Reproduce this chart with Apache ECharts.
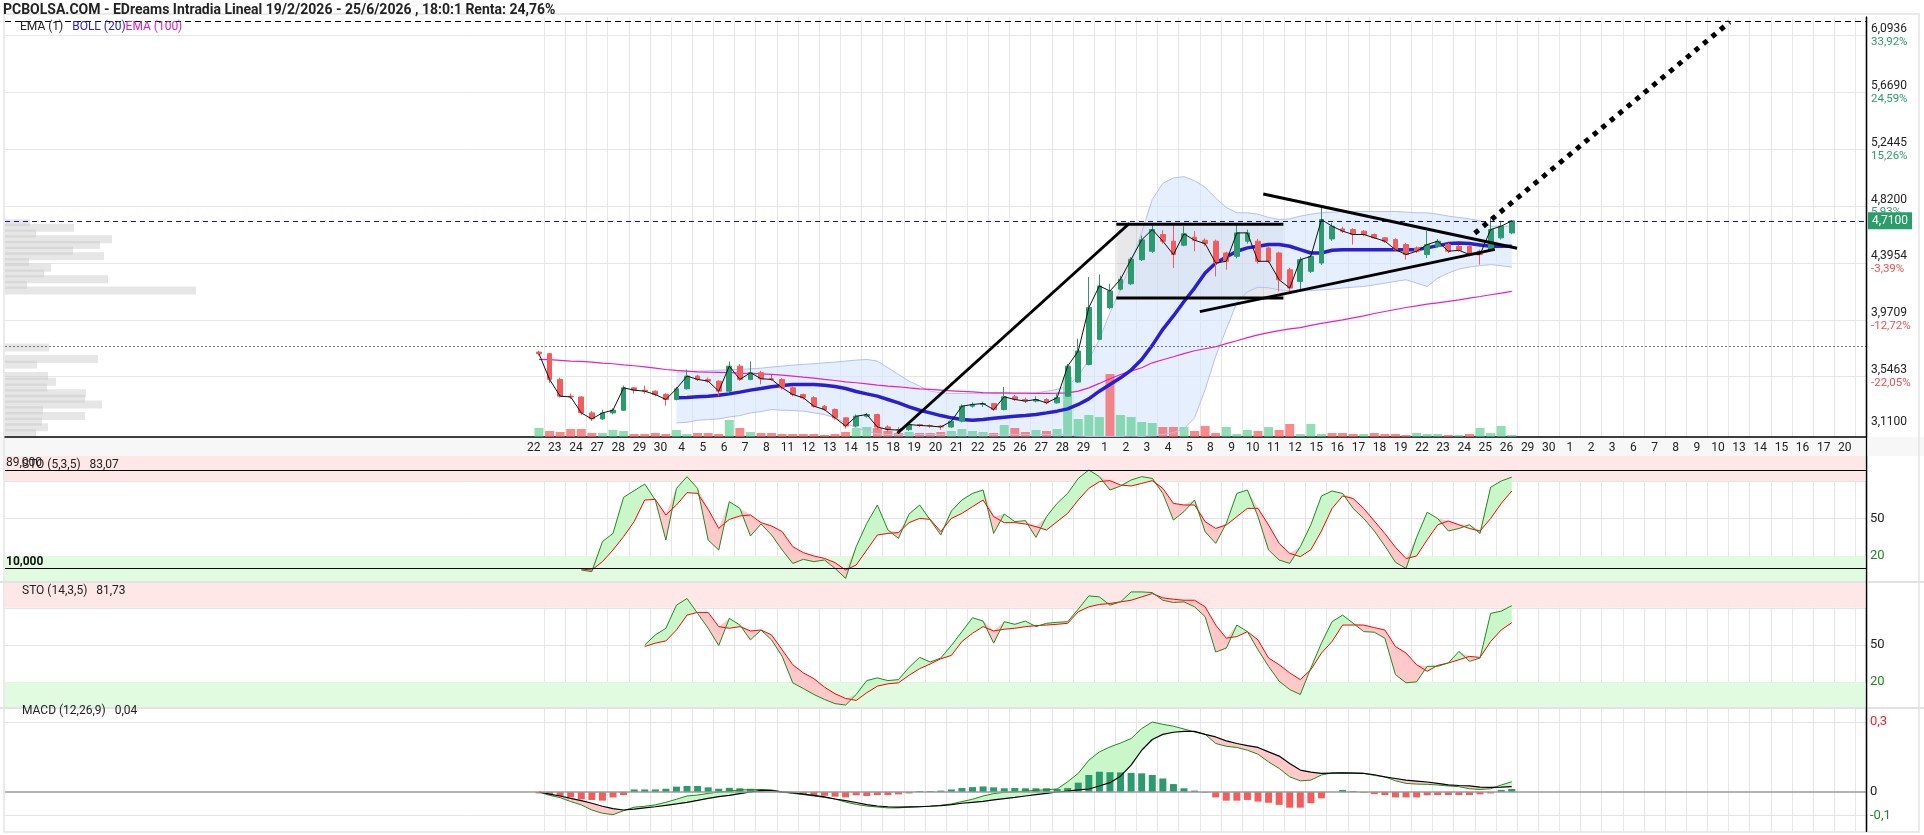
<!DOCTYPE html>
<html>
<head>
<meta charset="utf-8">
<title>EDreams intradia</title>
<script src="https://cdn.jsdelivr.net/npm/echarts@6/dist/echarts.min.js"></script>
<style>
  html, body { margin: 0; padding: 0; background: #fff; }
  #chart { width: 1924px; height: 835px; }
</style>
</head>
<body>
<div id="chart"></div>
<script>
// trading days shown on the x axis (22 abr -> 20 jul)
const dayLabels = ['22','23','24','27','28','29','30',
  '4','5','6','7','8','11','12','13','14','15','18','19','20','21','22','25','26','27','28','29',
  '1','2','3','4','5','8','9','10','11','12','15','16','17','18','19','22','23','24','25','26','29','30',
  '1','2','3','6','7','8','9','10','13','14','15','16','17','20'];

// half-day candles
const candleOpen = [
  3.730,3.718,3.526,3.401,3.395,3.276,3.231,3.276,3.296,3.463,
  3.446,3.438,3.413,3.376,3.456,3.551,3.526,3.513,3.438,3.625,
  3.526,3.576,3.531,3.526,3.463,3.413,3.389,3.326,3.301,3.239,
  3.178,3.251,3.264,3.171,3.151,3.151,3.189,3.182,3.178,3.171,
  3.214,3.326,3.339,3.346,3.301,3.396,3.376,3.364,3.376,3.351,
  3.401,3.506,3.638,3.825,4.062,4.200,4.240,4.420,4.483,4.608,
  4.558,4.528,4.588,4.565,4.558,4.470,4.445,4.558,4.558,4.508,
  4.470,4.345,4.258,4.333,4.395,4.575,4.650,4.645,4.633,4.608,
  4.583,4.570,4.533,4.508,4.458,4.520,4.533,4.520,4.520,4.483,
  4.495,4.583,4.620];
const candleClose = [
  3.718,3.526,3.401,3.395,3.276,3.231,3.276,3.296,3.463,3.446,
  3.438,3.413,3.376,3.456,3.551,3.526,3.513,3.438,3.625,3.526,
  3.576,3.531,3.526,3.463,3.413,3.389,3.326,3.301,3.239,3.178,
  3.251,3.264,3.171,3.151,3.148,3.189,3.182,3.178,3.171,3.214,
  3.326,3.339,3.346,3.301,3.396,3.376,3.364,3.376,3.351,3.389,
  3.625,3.738,4.062,4.224,4.186,4.274,4.423,4.568,4.645,4.558,
  4.458,4.613,4.565,4.540,4.395,4.408,4.620,4.620,4.408,4.408,
  4.270,4.208,4.420,4.445,4.720,4.670,4.633,4.608,4.608,4.583,
  4.558,4.495,4.458,4.483,4.533,4.558,4.483,4.490,4.458,4.458,
  4.645,4.670,4.710];
const candleHigh = [
  3.740,3.725,3.540,3.420,3.400,3.290,3.300,3.310,3.480,3.470,
  3.480,3.445,3.425,3.470,3.600,3.560,3.540,3.520,3.660,3.640,
  3.660,3.590,3.560,3.535,3.475,3.420,3.400,3.335,3.310,3.245,
  3.265,3.275,3.270,3.185,3.170,3.200,3.195,3.190,3.185,3.225,
  3.340,3.355,3.360,3.350,3.470,3.410,3.390,3.400,3.385,3.420,
  3.640,3.830,4.290,4.310,4.240,4.300,4.440,4.600,4.683,4.640,
  4.683,4.670,4.633,4.580,4.570,4.480,4.695,4.645,4.575,4.520,
  4.480,4.360,4.440,4.460,4.808,4.695,4.665,4.655,4.640,4.615,
  4.590,4.580,4.545,4.520,4.633,4.575,4.545,4.530,4.530,4.495,
  4.733,4.700,4.715];
const candleLow = [
  3.705,3.500,3.390,3.380,3.260,3.215,3.225,3.265,3.290,3.420,
  3.420,3.400,3.330,3.370,3.450,3.515,3.500,3.400,3.430,3.515,
  3.520,3.490,3.515,3.450,3.400,3.375,3.315,3.290,3.225,3.160,
  3.170,3.240,3.150,3.135,3.130,3.140,3.170,3.165,3.150,3.165,
  3.205,3.315,3.320,3.290,3.295,3.365,3.350,3.355,3.340,3.345,
  3.395,3.500,3.630,3.820,4.050,4.190,4.230,4.410,4.470,4.540,
  4.358,4.520,4.483,4.520,4.295,4.345,4.430,4.540,4.390,4.395,
  4.183,4.183,4.190,4.320,4.380,4.560,4.620,4.533,4.595,4.575,
  4.545,4.485,4.420,4.470,4.433,4.510,4.470,4.480,4.445,4.383,
  4.490,4.570,4.610];
// volume, thousands of shares
const volume = [
  9,6,5,8,8,4,4,7,6,3,
  3,4,3,7,3,4,4,3,17,9,
  5,4,4,3,3,3,3,2,3,5,
  9,10,9,6,4,5,4,4,5,6,
  8,6,5,4,12,9,5,7,6,8,
  60,18,22,20,63,22,20,15,14,10,
  10,10,6,11,4,10,3,7,6,10,
  7,13,3,13,3,4,4,3,3,4,
  3,3,2,4,3,3,2,2,3,9,
  4,11,2];

const bollUpper = [null,null,null,null,null,null,null,null,null,null,null,null,null,
  3.580,3.583,3.588,3.590,3.595,3.598,3.600,
  3.605,3.610,3.618,3.625,3.633,3.638,3.643,3.650,3.655,3.663,
  3.670,3.675,3.663,3.613,3.563,3.513,3.476,3.438,3.426,3.421,
  3.421,3.421,3.421,3.421,3.421,3.421,3.421,3.425,3.438,3.451,
  3.476,3.551,3.675,3.825,4.024,4.199,4.398,4.623,4.870,4.990,
  5.030,5.040,5.010,4.960,4.880,4.810,4.770,4.770,4.760,4.735,
  4.720,4.725,4.745,4.760,4.770,4.775,4.780,4.780,4.780,4.780,
  4.780,4.780,4.775,4.770,4.770,4.760,4.745,4.735,4.725,4.710,
  4.670,4.670,4.670];
const bollMid = [null,null,null,null,null,null,null,null,null,null,null,null,null,
  3.389,3.391,3.396,3.401,3.408,3.418,3.431,
  3.446,3.458,3.471,3.481,3.488,3.488,3.488,3.483,3.473,3.458,
  3.436,3.418,3.401,3.376,3.351,3.321,3.296,3.276,3.256,3.239,
  3.226,3.221,3.226,3.236,3.244,3.251,3.256,3.264,3.276,3.289,
  3.306,3.339,3.381,3.438,3.488,3.538,3.596,3.675,3.780,3.900,
  4.000,4.108,4.208,4.320,4.395,4.440,4.483,4.508,4.520,4.533,
  4.533,4.520,4.495,4.470,4.470,4.490,4.495,4.495,4.495,4.495,
  4.495,4.495,4.495,4.495,4.508,4.525,4.540,4.545,4.540,4.530,
  4.520,4.520,4.520];
const bollLower = [null,null,null,null,null,null,null,null,null,null,null,null,null,
  3.201,3.206,3.221,3.226,3.231,3.246,3.256,
  3.276,3.286,3.301,3.296,3.294,3.289,3.276,3.264,3.239,3.201,
  3.164,3.139,3.120,3.114,3.114,3.114,3.114,3.114,3.114,3.114,
  3.114,3.114,3.114,3.114,3.114,3.114,3.114,3.114,3.114,3.114,
  3.114,3.105,3.100,3.100,3.100,3.100,3.105,3.100,3.107,3.115,
  3.130,3.157,3.239,3.450,3.700,3.900,4.100,4.180,4.215,4.210,
  4.195,4.188,4.188,4.188,4.195,4.200,4.208,4.215,4.220,4.232,
  4.245,4.258,4.270,4.245,4.220,4.283,4.320,4.350,4.365,4.375,
  4.383,4.375,4.365];
const ema100 = [
  3.675,3.673,3.668,3.663,3.660,3.655,3.648,3.643,3.635,3.628,
  3.620,3.610,3.600,3.593,3.588,3.583,3.580,3.578,3.576,3.573,
  3.571,3.568,3.563,3.558,3.551,3.543,3.536,3.526,3.518,3.508,
  3.501,3.493,3.483,3.476,3.471,3.463,3.456,3.451,3.446,3.441,
  3.436,3.433,3.428,3.426,3.426,3.423,3.423,3.421,3.421,3.423,
  3.426,3.438,3.463,3.496,3.531,3.563,3.588,3.613,3.650,3.673,
  3.695,3.718,3.740,3.755,3.770,3.793,3.815,3.838,3.858,3.875,
  3.890,3.903,3.913,3.930,3.945,3.958,3.970,3.985,4.000,4.018,
  4.033,4.048,4.063,4.075,4.088,4.098,4.108,4.120,4.133,4.145,
  4.158,4.170,4.183];

const sto5K = [null,null,null,null,
  8.8,7.5,31.5,38.1,66.9,72.3,
  77.6,64.8,32.8,74.1,83.5,74.1,32.8,24.8,63.5,58.1,
  36.0,45.6,36.8,24.8,14.1,17.3,15.5,16.8,10.1,2.1,
  27.5,46.1,60.8,40.8,34.1,53.6,60.8,48.8,36.8,56.0,
  64.8,70.1,72.8,38.1,53.6,47.5,48.3,34.9,51.5,62.1,
  70.1,82.1,88.8,83.5,72.8,76.0,80.8,83.5,82.1,70.1,
  48.8,55.5,64.8,39.5,30.1,46.1,70.1,72.8,51.5,24.8,
  16.8,14.1,27.5,45.0,68.0,72.0,70.0,58.0,50.0,40.0,
  28.0,15.0,10.0,35.0,55.0,50.0,40.0,42.0,45.0,38.0,
  75.0,80.0,83.077];
const sto5D = [null,null,null,null,
  9.6,8.8,15.5,24.8,35.5,47.5,
  64.8,65.3,52.8,60.8,70.7,70.1,57.3,42.1,49.3,52.0,
  52.8,46.7,44.0,39.5,27.5,22.7,20.0,18.1,14.7,8.8,
  12.8,24.8,36.8,38.1,38.7,46.7,50.1,49.3,39.5,50.1,
  54.1,59.5,64.8,51.5,46.7,46.7,45.6,43.5,40.8,47.5,
  54.1,64.8,74.1,79.5,80.3,76.8,76.0,78.1,80.3,74.1,
  62.1,60.8,60.8,47.5,42.1,44.8,51.5,58.1,58.1,44.8,
  30.1,22.1,19.5,25.0,40.0,58.0,68.0,66.0,58.0,48.0,
  38.0,27.0,18.0,20.0,33.0,45.0,48.0,45.0,42.0,40.0,
  50.0,62.0,72.0];
const sto14K = [null,null,null,null,null,null,null,null,null,null,
  50.0,58.1,63.5,82.1,87.5,75.5,63.5,49.6,71.5,66.1,
  54.1,62.1,54.1,40.8,19.5,14.9,10.1,6.1,2.7,1.6,
  10.1,21.3,23.5,21.3,22.1,32.0,40.0,36.3,39.5,49.6,
  60.8,72.0,69.3,51.5,68.8,66.7,69.3,64.8,67.5,68.3,
  68.8,78.9,89.6,88.8,82.1,84.8,92.8,92.8,92.3,86.1,
  84.3,84.8,80.8,72.8,44.3,47.5,66.1,60.8,46.1,32.8,
  20.8,14.1,10.1,31.5,51.5,68.8,74.1,67.5,60.8,60.3,
  55.5,26.1,19.5,20.3,32.8,32.8,35.5,44.8,36.8,39.5,
  75.5,77.3,81.736];
const sto14D = [null,null,null,null,null,null,null,null,null,null,
  48.8,51.5,53.3,62.1,74.1,76.3,76.3,64.8,63.5,64.8,
  61.3,62.1,58.1,46.1,34.1,27.5,22.9,16.0,10.7,6.9,
  5.3,11.5,16.8,18.7,19.5,25.6,30.9,34.7,38.9,41.6,
  52.8,59.5,64.8,61.3,62.7,63.5,64.8,65.6,66.1,66.7,
  67.5,76.8,80.8,82.7,83.5,84.8,86.1,88.8,91.5,88.0,
  86.9,86.1,86.1,80.8,66.1,55.5,56.8,60.8,54.1,39.5,
  34.1,27.5,22.1,30.1,43.5,52.8,66.1,66.1,66.1,64.0,
  62.1,48.8,43.5,34.1,28.8,33.6,35.5,38.1,40.8,40.0,
  52.8,62.1,68.0];

const macdLine = [
  0,-0.014,-0.024,-0.041,-0.055,-0.077,-0.091,-0.097,-0.080,-0.065,
  -0.061,-0.055,-0.044,-0.031,-0.017,-0.013,-0.006,0,0.004,0.009,
  0.010,0.011,0.009,0,-0.006,-0.011,-0.017,-0.023,-0.030,-0.043,
  -0.053,-0.060,-0.064,-0.068,-0.068,-0.065,-0.063,-0.060,-0.057,-0.051,
  -0.041,-0.031,-0.017,-0.007,-0.001,0.001,0.004,0.007,0.010,0.013,
  0.044,0.080,0.136,0.172,0.193,0.210,0.229,0.272,0.300,0.290,
  0.282,0.270,0.257,0.247,0.208,0.196,0.191,0.179,0.162,0.129,
  0.101,0.065,0.048,0.051,0.073,0.082,0.082,0.082,0.080,0.071,
  0.065,0.048,0.037,0.034,0.033,0.030,0.026,0.023,0.014,0.011,
  0.014,0.030,0.044];
const macdSignal = [
  0,-0.009,-0.017,-0.027,-0.037,-0.048,-0.061,-0.071,-0.077,-0.073,
  -0.068,-0.063,-0.057,-0.051,-0.044,-0.036,-0.027,-0.020,-0.014,-0.007,
  0,0.007,0.006,0.001,-0.003,-0.009,-0.014,-0.021,-0.030,-0.037,
  -0.045,-0.054,-0.060,-0.063,-0.065,-0.064,-0.063,-0.061,-0.058,-0.054,
  -0.048,-0.044,-0.040,-0.034,-0.028,-0.023,-0.017,-0.011,-0.006,0,
  0.004,0.009,0.013,0.026,0.040,0.068,0.115,0.179,0.225,0.247,
  0.256,0.260,0.260,0.247,0.236,0.219,0.208,0.199,0.191,0.172,
  0.154,0.122,0.094,0.085,0.080,0.081,0.082,0.081,0.080,0.074,
  0.065,0.058,0.051,0.047,0.043,0.037,0.031,0.028,0.026,0.021,
  0.020,0.021,0.023];
const macdHist = [
  -0.006,-0.009,-0.017,-0.023,-0.031,-0.034,-0.037,-0.023,-0.013,0.011,
  0.011,0.011,0.014,0.023,0.026,0.026,0.020,0.014,0.018,0.016,
  0.014,0.003,-0.001,-0.003,-0.006,-0.009,-0.013,-0.016,-0.020,-0.023,
  -0.014,-0.017,-0.013,-0.013,-0.010,-0.006,0.004,0.004,0.006,0.011,
  0.017,0.021,0.024,0.020,0.016,0.017,0.016,0.016,0.016,0.013,
  0.017,0.040,0.073,0.087,0.085,0.084,0.082,0.080,0.073,0.058,
  0.034,0.016,0.006,-0.003,-0.023,-0.037,-0.037,-0.034,-0.041,-0.046,
  -0.055,-0.067,-0.067,-0.048,-0.027,0,0.009,0.004,-0.003,-0.009,
  -0.013,-0.023,-0.023,-0.023,-0.014,-0.013,-0.013,-0.013,-0.013,-0.010,
  -0.006,0.009,0.013];

// volume-at-price profile, bins from the bottom of the chart up
const profileVolume = [31,43,37,80,38,97,80,81,42,51,43,0,32,93,0,44,0,0,0,0,0,0,0,0,0,
  191,22,103,39,46,24,99,68,95,107,31,69,25];

// right price scale
const priceTicks = [3.5463, 3.9709, 4.3954, 4.8200, 5.2445, 5.6690, 6.0936];
const priceTickText = ['3,5463','3,9709','4,3954','4,8200','5,2445','5,6690','6,0936'];
const pricePct = ['-22,05%','-12,72%','-3,39%','5,93%','15,26%','24,59%','33,92%'];
const lowLabel = 3.11;
const lastPrice = 4.71;
const levelLine = 3.770;
const topLine = 6.202;

// hand-drawn lines, [slot, price]
const trendLines = [
  [[83.9, 3.124], [105.85, 4.692]],
  [[104.6, 4.685], [120.4, 4.685]],
  [[104.6, 4.134], [120.4, 4.134]],
  [[112.5, 4.032], [140.4, 4.497]],
  [[118.5, 4.910], [142.5, 4.505]]
];
const projection = [[138.5, 4.617], [162.6, 6.194]];
const rangeBox = [[104.6, 4.685], [120.4, 4.134]];

// ---- chart ----
const FONT = 'Roboto, "Liberation Sans", Arial, sans-serif';
const UP = '#2b9a6c', DOWN = '#f25c5c';
const N_SLOTS = 176, FIRST = 50;

const cats = Array.from({ length: N_SLOTS }, (_, i) => {
  const d = i - FIRST;
  return d >= 0 && d % 2 === 0 && d / 2 < dayLabels.length ? dayLabels[d / 2] : '';
});
const dayBoundary = (idx) => idx > FIRST && (idx - FIRST - 1) % 2 === 0;
const pad = (arr, empty = '-') => Array.from({ length: N_SLOTS }, (_, i) => {
  const k = i - FIRST;
  const v = k >= 0 && k < arr.length ? arr[k] : null;
  return v == null ? empty : v;
});
const posDiff = (a, b) => a.map((v, i) => (v == null || b[i] == null) ? null : Math.max(v - b[i], 0));

const candles = pad(candleOpen.map((o, i) => [o, candleClose[i], candleLow[i], candleHigh[i]]), ['-', '-', '-', '-']);
const volData = pad(volume.map((v, i) => ({
  value: v,
  itemStyle: { color: (i > 0 && candleClose[i] < candleClose[i - 1]) ? 'rgba(244,92,92,0.72)' : 'rgba(70,200,130,0.6)' }
})));
const histData = pad(macdHist.map(v => ({ value: v, itemStyle: { color: v >= 0 ? UP : '#f45b5b' } })));

function fillBetween(hi, lo, color, stack, xi, yi) {
  return [
    { type: 'line', xAxisIndex: xi, yAxisIndex: yi, stack, stackStrategy: 'all', data: pad(lo),
      symbol: 'none', lineStyle: { opacity: 0 }, silent: true, z: 1 },
    { type: 'line', xAxisIndex: xi, yAxisIndex: yi, stack, stackStrategy: 'all', data: pad(posDiff(hi, lo)),
      symbol: 'none', lineStyle: { opacity: 0 }, areaStyle: { color, opacity: 1 }, silent: true, z: 1 }
  ];
}
function line(data, color, width, xi, yi, z) {
  return { type: 'line', xAxisIndex: xi, yAxisIndex: yi, data: pad(data), symbol: 'none',
    lineStyle: { color, width }, silent: true, z: z || 3 };
}
function tag(value, text, bg) {
  return { yAxis: value, lineStyle: { opacity: 0 },
    label: { show: true, position: 'end', distance: 2, formatter: text, backgroundColor: bg,
      color: '#fff', padding: [3, 4, 2, 4], fontSize: 12, fontFamily: FONT, borderColor: '#777', borderWidth: bg === '#000' ? 1 : 0 } };
}

const catAxis = (gridIndex, showLabels) => ({
  type: 'category', gridIndex, data: cats, boundaryGap: true,
  axisLine: { show: showLabels, onZero: false, lineStyle: { color: '#000', width: 1.5 } },
  axisTick: { show: false },
  axisLabel: showLabels ? { interval: 0, color: '#222', fontSize: 12, fontFamily: FONT, margin: 5, padding: [0, 10.6, 0, 0] } : { show: false },
  splitLine: { show: true, interval: dayBoundary, lineStyle: { color: '#e6e6e6' } }
});
const plain = { color: '#222', fontSize: 13, fontFamily: FONT };
const rightAxis = { show: true, onZero: false, lineStyle: { color: '#000', width: 1.3 } };

const option = {
  animation: false,
  backgroundColor: '#fff',
  textStyle: { fontFamily: FONT },
  title: [
    { text: 'PCBOLSA.COM - EDreams Intradia Lineal 19/2/2026 - 25/6/2026 , 18:0:1 Renta: 24,76%', left: 3, top: 3, padding: 0,
      textStyle: { fontSize: 14, fontWeight: 'bold', color: '#222', fontFamily: FONT } },
    { text: '{a|EMA (1)}   {b|BOLL (20)}{c|EMA (100)}', left: 20, top: 21, padding: 0,
      textStyle: { fontSize: 12, fontWeight: 'normal', rich: {
        a: { color: '#222', fontSize: 12, fontFamily: FONT },
        b: { color: '#2424d0', fontSize: 12, fontFamily: FONT },
        c: { color: '#e020b4', fontSize: 12, fontFamily: FONT } } } },
    { text: 'STO (5,3,5)   83,07', left: 22, top: 459, padding: 0, textStyle: { fontSize: 12, fontWeight: 'normal', color: '#222', fontFamily: FONT } },
    { text: 'STO (14,3,5)   81,73', left: 22, top: 585, padding: 0, textStyle: { fontSize: 12, fontWeight: 'normal', color: '#222', fontFamily: FONT } },
    { text: 'MACD (12,26,9)   0,04', left: 22, top: 705, padding: 0, textStyle: { fontSize: 12, fontWeight: 'normal', color: '#222', fontFamily: FONT } }
  ],
  graphic: { elements: [
    { type: 'rect', z: -10, shape: { x: 0, y: 437, width: 1924, height: 19 }, style: { fill: '#f7f7f7' } },
    { type: 'rect', z: -10, shape: { x: 0, y: 581, width: 1924, height: 2 }, style: { fill: '#e2e2e2' } },
    { type: 'rect', z: -10, shape: { x: 0, y: 707, width: 1924, height: 2 }, style: { fill: '#e2e2e2' } },
    { type: 'rect', z: -10, shape: { x: 4, y: 14, width: 1915, height: 818 }, style: { fill: 'none', stroke: '#e4e4e4', lineWidth: 1.5 } },
    { type: 'line', z: 50, shape: { x1: 1866.5, y1: 17, x2: 1866.5, y2: 832 }, style: { stroke: '#000', lineWidth: 1.3 } }
  ] },
  grid: [
    { left: 5, top: 17, width: 1861, height: 420 },
    { left: 5, top: 219.3, width: 1861, height: 216.6 },
    { left: 5, top: 456, width: 1861, height: 125 },
    { left: 5, top: 583, width: 1861, height: 124 },
    { left: 5, top: 709, width: 1861, height: 122 }
  ],
  xAxis: [
    catAxis(0, true),
    { type: 'value', gridIndex: 0, min: -0.5, max: N_SLOTS - 0.5, show: false },
    { type: 'value', gridIndex: 1, min: 0, max: 1861, show: false },
    catAxis(2, false),
    catAxis(3, false),
    catAxis(4, false)
  ],
  yAxis: [
    { type: 'value', gridIndex: 0, position: 'right', min: 3.096, max: 6.232,
      axisLine: rightAxis,
      axisTick: { show: false, customValues: priceTicks },
      splitLine: { show: true, lineStyle: { color: '#e6e6e6' } },
      axisLabel: { customValues: [lowLabel].concat(priceTicks), margin: 5, fontFamily: FONT,
        formatter: (v) => {
          if (Math.abs(v - lowLabel) < 1e-6) return '{v|3,1100}\n{gap|}';
          let i = 0;
          priceTicks.forEach((t, j) => { if (Math.abs(t - v) < Math.abs(priceTicks[i] - v)) i = j; });
          return '{v|' + priceTickText[i] + '}\n{' + (pricePct[i][0] === '-' ? 'n' : 'p') + '|' + pricePct[i] + '}';
        },
        rich: {
          v: { color: '#222', fontSize: 12, lineHeight: 13, fontFamily: FONT },
          p: { color: '#2a9d6a', fontSize: 11.5, lineHeight: 13, fontFamily: FONT },
          n: { color: '#f05050', fontSize: 11.5, lineHeight: 13, fontFamily: FONT },
          gap: { lineHeight: 26 }
        } } },
    { type: 'value', gridIndex: 0, min: 0, max: 420, show: false },
    { type: 'category', gridIndex: 1, data: profileVolume.map((_, i) => String(i)), show: false },
    { type: 'value', gridIndex: 2, position: 'right', min: 0, max: 100,
      axisLine: rightAxis,
      axisTick: { show: false, customValues: [20, 50, 80] },
      splitLine: { lineStyle: { color: '#e4e4e4' } },
      axisLabel: { customValues: [20, 50], margin: 4, formatter: v => v === 20 ? '{g|20}' : '{k|50}',
        rich: { g: Object.assign({}, plain, { color: '#1f8a1f' }), k: plain } } },
    { type: 'value', gridIndex: 3, position: 'right', min: 0, max: 100,
      axisLine: rightAxis,
      axisTick: { show: false, customValues: [20, 50, 80] },
      splitLine: { lineStyle: { color: '#e4e4e4' } },
      axisLabel: { customValues: [20, 50], margin: 4, formatter: v => v === 20 ? '{g|20}' : '{k|50}',
        rich: { g: Object.assign({}, plain, { color: '#1f8a1f' }), k: plain } } },
    { type: 'value', gridIndex: 4, position: 'right', min: -0.167, max: 0.3557,
      axisLine: rightAxis,
      axisTick: { show: false, customValues: [-0.1, 0.3] },
      splitLine: { lineStyle: { color: '#e4e4e4' } },
      axisLabel: { customValues: [-0.1, 0, 0.3], margin: 4,
        formatter: v => v > 0.1 ? '{r|0,3}' : (v < -0.05 ? '{g|-0,1}' : '{k|0}'),
        rich: { r: Object.assign({}, plain, { color: '#ff2020' }), g: Object.assign({}, plain, { color: '#1f8a1f' }), k: plain } } }
  ],
  series: [
    // volume profile on the left
    { type: 'bar', xAxisIndex: 2, yAxisIndex: 2, data: profileVolume, barWidth: 8, silent: true,
      itemStyle: { color: 'rgba(200,200,200,0.45)' }, z: 0 },
    // bollinger band
    ...fillBetween(bollUpper, bollLower, 'rgba(214,228,251,0.6)', 'boll', 0, 0),
    line(bollUpper, '#b4c0f0', 1, 0, 0, 2),
    line(bollLower, '#b4c0f0', 1, 0, 0, 2),
    // volume
    { type: 'bar', xAxisIndex: 0, yAxisIndex: 1, data: volData, barWidth: 9, silent: true, z: 2 },
    line(ema100, '#e81ec4', 1.2, 0, 0, 3),
    line(bollMid, '#2a1fd0', 3.5, 0, 0, 3),
    { type: 'candlestick', xAxisIndex: 0, yAxisIndex: 0, data: candles, barMaxWidth: 8, silent: true, z: 4,
      itemStyle: { color: UP, color0: DOWN, borderColor: UP, borderColor0: DOWN, borderWidth: 1 },
      markLine: { symbol: 'none', silent: true, animation: false, data: [
        Object.assign(tag(lastPrice, '4,7100', '#2a9d6a'), { lineStyle: { color: '#1010d0', type: [5, 4], width: 1 } }),
        { yAxis: levelLine, lineStyle: { color: '#777', type: [2, 2], width: 1 }, label: { show: false } },
        { yAxis: topLine, lineStyle: { color: '#000', type: [6, 4], width: 1 }, label: { show: false } }
      ] } },
    line(candleClose, '#111', 1, 0, 0, 5),
    // drawings
    ...trendLines.map((pts, i) => ({ type: 'line', xAxisIndex: 1, yAxisIndex: 0, data: pts, symbol: 'none', silent: true, z: 6,
      lineStyle: { color: '#000', width: 3 },
      markArea: i === 0 ? { silent: true, itemStyle: { color: 'rgba(140,140,150,0.2)' },
        data: [[{ coord: rangeBox[0] }, { coord: rangeBox[1] }]] } : undefined })),
    { type: 'line', xAxisIndex: 1, yAxisIndex: 0, data: projection, symbol: 'none', silent: true, z: 6,
      lineStyle: { color: '#000', width: 5, type: [5, 6], cap: 'butt' } },
    // STO (5,3,5)
    ...fillBetween(sto5K, sto5D, '#c9f7c9', 's5g', 3, 3),
    ...fillBetween(sto5D, sto5K, '#ffc9c9', 's5r', 3, 3),
    Object.assign(line(sto5D, '#ff0000', 1, 3, 3), {
      markArea: { silent: true, data: [
        [{ yAxis: 80, itemStyle: { color: '#fde7e7' } }, { yAxis: 100 }],
        [{ yAxis: 0, itemStyle: { color: '#e1fbe1' } }, { yAxis: 20 }]] },
      markLine: { symbol: 'none', silent: true, data: [
        { yAxis: 89, lineStyle: { color: '#000', width: 1.2, type: 'solid' },
          label: { show: true, position: 'insideStartTop', formatter: '89,000', color: '#222', fontSize: 12, fontFamily: FONT, distance: 1 } },
        { yAxis: 10, lineStyle: { color: '#000', width: 1.2, type: 'solid' },
          label: { show: true, position: 'insideStartTop', formatter: '10,000', color: '#111', fontSize: 12, fontWeight: 'bold', fontFamily: FONT, distance: 1 } },
        tag(sto5K[sto5K.length - 1], '83,077', '#000')
      ] } }),
    line(sto5K, '#1f8a1f', 1, 3, 3),
    // STO (14,3,5)
    ...fillBetween(sto14K, sto14D, '#c9f7c9', 's14g', 4, 4),
    ...fillBetween(sto14D, sto14K, '#ffc9c9', 's14r', 4, 4),
    Object.assign(line(sto14D, '#ff0000', 1, 4, 4), {
      markArea: { silent: true, data: [
        [{ yAxis: 80, itemStyle: { color: '#fde7e7' } }, { yAxis: 100 }],
        [{ yAxis: 0, itemStyle: { color: '#e1fbe1' } }, { yAxis: 20 }]] },
      markLine: { symbol: 'none', silent: true, data: [tag(sto14K[sto14K.length - 1], '81,736', '#000')] } }),
    line(sto14K, '#1f8a1f', 1, 4, 4),
    // MACD (12,26,9)
    { type: 'bar', xAxisIndex: 5, yAxisIndex: 5, data: histData, barWidth: 7, silent: true, z: 2,
      markLine: { symbol: 'none', silent: true, data: [{ yAxis: 0, lineStyle: { color: '#9a9a9a', width: 1.5, type: 'solid' }, label: { show: false } }] } },
    ...fillBetween(macdLine, macdSignal, '#c9f7c9', 'mg', 5, 5),
    ...fillBetween(macdSignal, macdLine, '#ffc9c9', 'mr', 5, 5),
    line(macdLine, '#1f8a1f', 1, 5, 5),
    line(macdSignal, '#000', 1.2, 5, 5)
  ]
};

const chart = echarts.init(document.getElementById('chart'));
chart.setOption(option);
</script>
</body>
</html>
